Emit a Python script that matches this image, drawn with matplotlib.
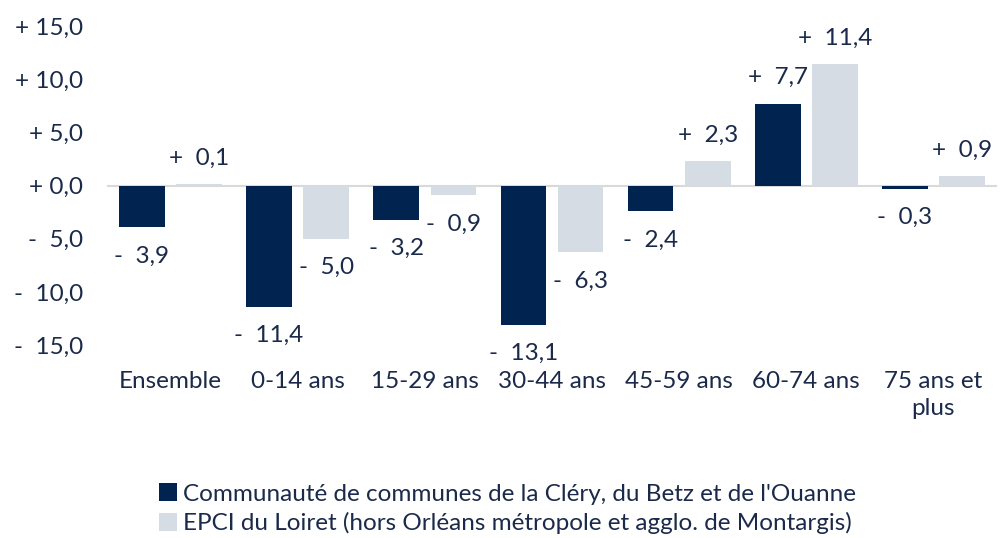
import matplotlib
matplotlib.use("Agg")
import matplotlib.pyplot as plt
import numpy as np
from matplotlib.patches import Patch

categories = ["Ensemble", "0-14 ans", "15-29 ans", "30-44 ans", "45-59 ans", "60-74 ans", "75 ans et\nplus"]
series_names = ["Communauté de communes de la Cléry, du Betz et de l'Ouanne",
                "EPCI du Loiret (hors Orléans métropole et agglo. de Montargis)"]
cc_values = [-3.9, -11.4, -3.2, -13.1, -2.4, 7.7, -0.3]
epci_values = [0.1, -5.0, -0.9, -6.3, 2.3, 11.4, 0.9]
yticks = [-15, -10, -5, 0, 5, 10, 15]

DARK = "#00244F"
LIGHT = "#D5DCE4"
TXT = "#1B2A4A"
FONT = "Lato"
FS = 17.5

plt.rcParams['font.family'] = [FONT, 'DejaVu Sans']

def fmt(v):
    sign = "+" if v >= 0 else "-"
    return f"{sign}  {abs(v):.1f}".replace(".", ",")

fig = plt.figure(figsize=(10.03, 5.38), dpi=100)
ax = fig.add_axes([0.1067, 0.3587, 0.994 - 0.1067, 0.9517 - 0.3587])

x = np.arange(len(categories))
off = 0.225
w = 0.36
b1 = ax.bar(x - off, cc_values, w, color=DARK, zorder=3)
b2 = ax.bar(x + off, epci_values, w, color=LIGHT, zorder=3)

for bars, vals in ((b1, cc_values), (b2, epci_values)):
    for bar, v in zip(bars, vals):
        cx = bar.get_x() + bar.get_width() / 2
        ax.annotate(fmt(v), (cx, v), xytext=(0, 26 if v >= 0 else -29),
                    textcoords="offset pixels", ha="center", va="center",
                    fontsize=FS, color=TXT)

ax.set_xlim(-0.5, len(categories) - 0.5)
ax.set_ylim(-15, 15)
ax.set_yticks(yticks)
ax.set_yticklabels([("+ " if t >= 0 else "-  ") + f"{abs(t):.1f}".replace(".", ",") for t in yticks],
                   fontsize=FS, color=TXT)
ax.set_xticks(x)
ax.set_xticklabels(categories, fontsize=FS, color=TXT, linespacing=1.3)
ax.tick_params(axis="both", length=0)
ax.tick_params(axis="y", pad=17)
ax.tick_params(axis="x", pad=19)
for s in ax.spines.values():
    s.set_visible(False)
ax.axhline(0, color="#D9D9D9", linewidth=1.5, zorder=2)

handles = [Patch(facecolor=DARK), Patch(facecolor=LIGHT)]
fig.legend(handles, series_names, loc="upper left", bbox_to_anchor=(0.146, 0.124),
           frameon=False, fontsize=FS, handlelength=0.75, handleheight=0.75,
           handletextpad=0.25, labelspacing=0.3, borderpad=0, labelcolor=TXT)

fig.savefig("out.png", dpi=100)
